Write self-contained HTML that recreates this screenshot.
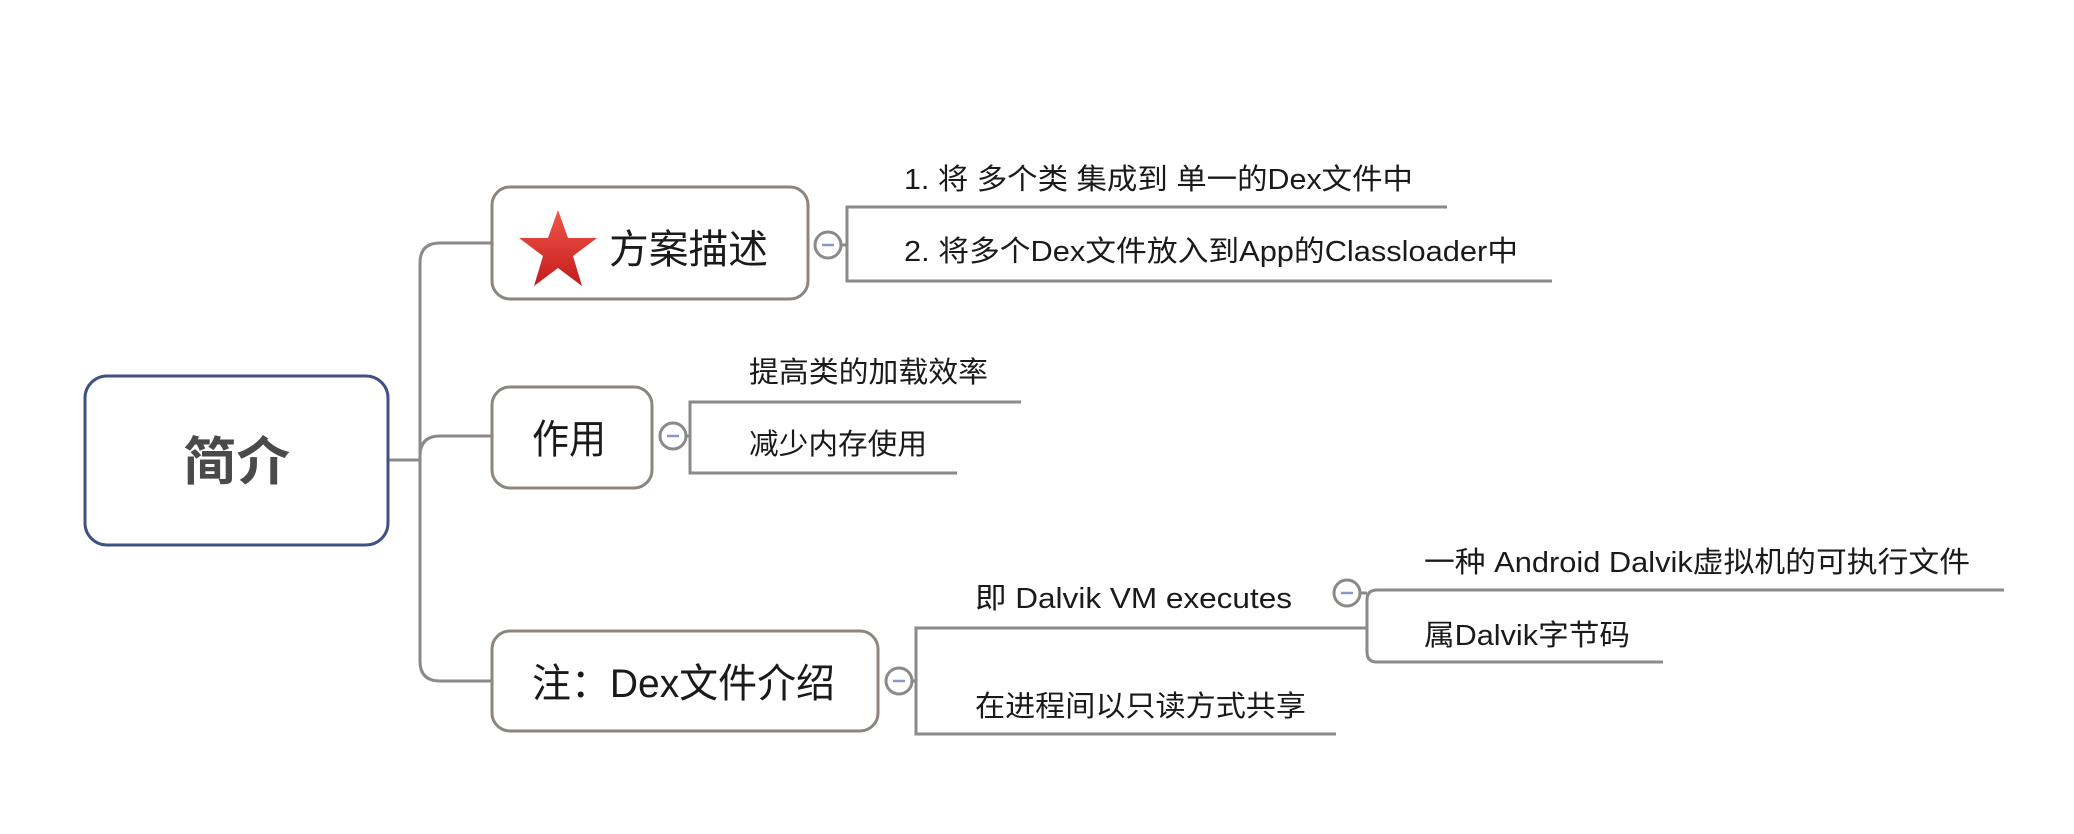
<!DOCTYPE html>
<html><head><meta charset="utf-8"><style>
html,body{margin:0;padding:0;background:#fff;}
svg{display:block;}
text{font-family:"Liberation Sans","Noto Sans CJK SC",sans-serif;fill:#1a1a1a;}
</style></head><body>
<svg width="2074" height="834" viewBox="0 0 2074 834" xmlns="http://www.w3.org/2000/svg">
<defs>
<linearGradient id="sg" x1="0" y1="0" x2="0" y2="1"><stop offset="0" stop-color="#f0584a"/><stop offset="1" stop-color="#c41b1b"/></linearGradient>
</defs>
<g fill="none" stroke="#8a8a8a" stroke-width="3">
<path d="M388 460 H420"/>
<path d="M492 243 H440 Q420 243 420 263 V661 Q420 681 440 681 H492"/>
<path d="M420 456 Q420 436 440 436 H492"/>
<path d="M838 245 H847"/>
<path d="M1447 207 H847 V281 H1552"/>
<path d="M683 436 H690"/>
<path d="M1021 402 H690 V473 H957"/>
<path d="M909 681 H916"/>
<path d="M1367 628 H916 V734 H1336"/>
<path d="M1357 593 H1367"/>
<path d="M2004 590 H1377 Q1367 590 1367 600 V652 Q1367 662 1377 662 H1663"/>
</g>
<rect x="85" y="376" width="303" height="169" rx="22" fill="#fff" stroke="#3d5088" stroke-width="3"/>
<text x="183" y="480" font-size="52" font-weight="bold" textLength="107" lengthAdjust="spacingAndGlyphs" style="fill:#4a4a4a">简介</text>
<rect x="492" y="187" width="316" height="112" rx="18" fill="#fff" stroke="#8c8580" stroke-width="3"/>
<polygon fill="url(#sg)" points="558,210 568,238 597,238 573,256 582,286 558,268 534,286 543,256 519,238 548,238"/>
<text x="609" y="263" font-size="40" textLength="159" lengthAdjust="spacingAndGlyphs">方案描述</text>
<rect x="492" y="387" width="160" height="101" rx="18" fill="#fff" stroke="#8c8580" stroke-width="3"/>
<text x="532" y="453" font-size="40" textLength="74" lengthAdjust="spacingAndGlyphs">作用</text>
<rect x="492" y="631" width="386" height="100" rx="18" fill="#fff" stroke="#8c8580" stroke-width="3"/>
<text x="532" y="697" font-size="40" textLength="303" lengthAdjust="spacingAndGlyphs">注：Dex文件介绍</text>
<g fill="#fff" stroke="#8a8a8a" stroke-width="3">
<circle cx="828" cy="245" r="13"/>
<circle cx="673" cy="436" r="13"/>
<circle cx="899" cy="681" r="13"/>
<circle cx="1347" cy="593" r="13"/>
</g>
<g stroke="#8b95c8" stroke-width="2.5">
<path d="M822 245 H834"/><path d="M667 436 H679"/><path d="M893 681 H905"/><path d="M1341 593 H1353"/>
</g>
<g font-size="29">
<text x="904" y="189" textLength="509" lengthAdjust="spacingAndGlyphs">1. 将 多个类 集成到 单一的Dex文件中</text>
<text x="904" y="261" textLength="614" lengthAdjust="spacingAndGlyphs">2. 将多个Dex文件放入到App的Classloader中</text>
<text x="749" y="382" textLength="239" lengthAdjust="spacingAndGlyphs">提高类的加载效率</text>
<text x="749" y="454" textLength="178" lengthAdjust="spacingAndGlyphs">减少内存使用</text>
<text x="975" y="608" textLength="317" lengthAdjust="spacingAndGlyphs">即 Dalvik VM executes</text>
<text x="975" y="716" textLength="331" lengthAdjust="spacingAndGlyphs">在进程间以只读方式共享</text>
<text x="1424" y="572" textLength="546" lengthAdjust="spacingAndGlyphs">一种 Android Dalvik虚拟机的可执行文件</text>
<text x="1424" y="645" textLength="206" lengthAdjust="spacingAndGlyphs">属Dalvik字节码</text>
</g>
</svg>
</body></html>
